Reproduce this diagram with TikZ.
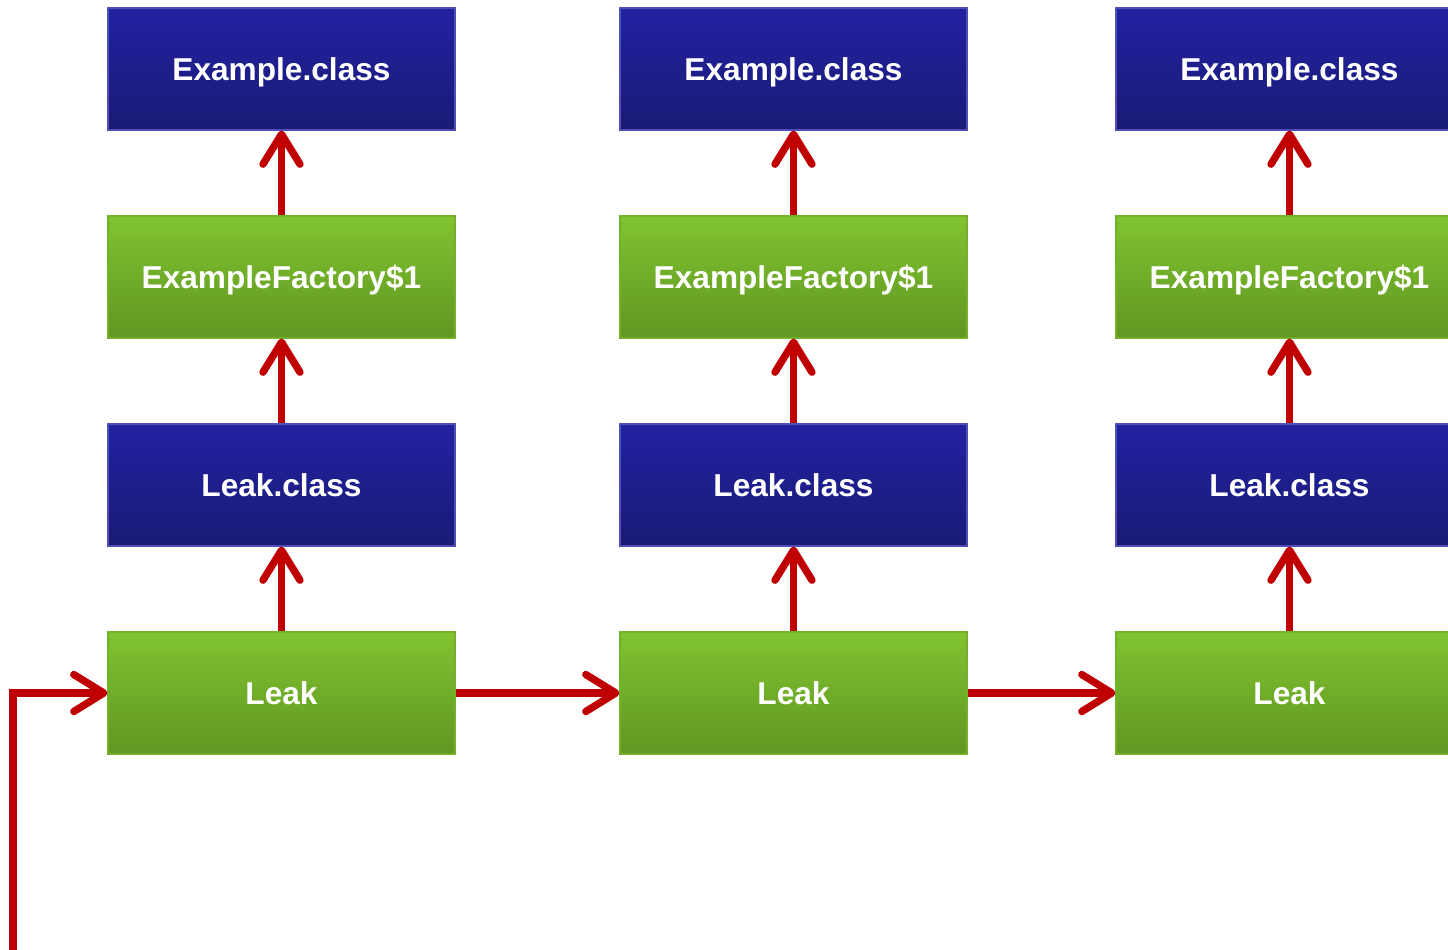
\documentclass[tikz,border=0pt]{standalone}
\usepackage{fontspec}
\setmainfont{Liberation Sans}
\usetikzlibrary{arrows.meta, positioning}
\definecolor{boxblue}{RGB}{34,34,162}
\definecolor{boxbluedark}{RGB}{26,26,118}
\definecolor{boxgreen}{RGB}{128,196,48}
\definecolor{boxgreendark}{RGB}{96,150,34}
\definecolor{linkred}{RGB}{192,0,0}

\begin{document}
\begin{tikzpicture}[font=\bfseries\fontsize{18}{20}\selectfont]

        % Setup the style for the boxes
        \tikzset{class box/.style={rectangle,
                                   minimum width=6.94cm,
                                   minimum height=2.44cm,
                                   text height=12.9pt,
                                   text depth=0pt,
                                   text=white,
                                   line width=0.6pt,
                                   draw=boxblue!80!white,
                                   top color=boxblue,
                                   bottom color=boxbluedark},
                 object box/.style={class box,
                                    draw=boxgreen!90!black,
                                    top color=boxgreen,
                                    bottom color=boxgreendark},
                 link/.style={line width=4.2pt,
                              draw=linkred,
                              line cap=butt,
                              line join=miter,
                              -{Straight Barb[length=0.6cm, width=0.74cm, round]}}}

        \clip (0, 0) rectangle (28.96, 19);

        % Draw the boxes, one column per leak
        \foreach \i/\x in {1/5.63, 2/15.87, 3/25.79} {
            \node[class box]  at (\x, 17.62) (ex\i)   {Example.class};
            \node[object box] at (\x, 13.46) (fac\i)  {ExampleFactory\$1};
            \node[class box]  at (\x, 9.30)  (cls\i)  {Leak.class};
            \node[object box] at (\x, 5.14)  (leak\i) {Leak};
        }

        \coordinate (root) at (0.26, 0);

        % Connect the boxes with arrows
        \foreach \i in {1, 2, 3} {
            \draw[link] (leak\i) -- (cls\i);
            \draw[link] (cls\i)  -- (fac\i);
            \draw[link] (fac\i)  -- (ex\i);
        }
        \draw[link] (leak1) -- (leak2);
        \draw[link] (leak2) -- (leak3);
        \draw[link] (root) |- (leak1);
    \end{tikzpicture}
\end{document}
